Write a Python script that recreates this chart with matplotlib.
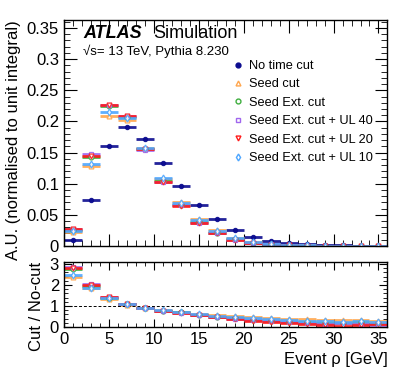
import matplotlib
matplotlib.use("Agg")
import matplotlib.pyplot as plt
from matplotlib.lines import Line2D
from matplotlib.ticker import MultipleLocator
import numpy as np

plt.rcParams['font.family'] = ['Liberation Sans', 'DejaVu Sans']

#%% Data

bin_centers = np.arange(1, 36, 2)
bin_half = 1.0

no_cut = [0.0096, 0.074, 0.160, 0.1915, 0.171, 0.1337, 0.0963, 0.0663, 0.043,
          0.026, 0.015, 0.0086, 0.0048, 0.0027, 0.0015, 0.0008, 0.0005, 0.0003]
seed_cut = [0.023, 0.128, 0.209, 0.202, 0.157, 0.108, 0.070, 0.043, 0.0257,
            0.0134, 0.0065, 0.0035, 0.0018, 0.0010, 0.0006, 0.0004, 0.0002, 0.0001]
seed_ext = [0.026, 0.143, 0.224, 0.207, 0.155, 0.104, 0.066, 0.038, 0.021,
            0.0105, 0.0055, 0.0028, 0.0012, 0.0006, 0.0003, 0.0002, 0.0001, 0.0001]
ul40 = [0.027, 0.147, 0.226, 0.208, 0.154, 0.103, 0.065, 0.037, 0.020,
        0.0098, 0.0048, 0.0025, 0.0010, 0.0005, 0.0002, 0.0001, 0.0001, 0.0]
ul20 = [0.027, 0.145, 0.227, 0.209, 0.155, 0.1027, 0.064, 0.037, 0.0203,
        0.0096, 0.0045, 0.0022, 0.0008, 0.0004, 0.0001, 0.0001, 0.0, 0.0]
ul10 = [0.024, 0.131, 0.2156, 0.206, 0.157, 0.1086, 0.069, 0.041, 0.0236,
        0.012, 0.006, 0.003, 0.0015, 0.0008, 0.0004, 0.0002, 0.0001, 0.0]

# ratios to "No time cut"
seed_cut_r = [2.40, 1.85, 1.33, 1.06, 0.92, 0.80, 0.72, 0.63, 0.55,
              0.50, 0.45, 0.42, 0.38, 0.36, 0.33, 0.32, 0.33, 0.30]
seed_ext_r = [2.75, 1.95, 1.40, 1.09, 0.91, 0.78, 0.69, 0.58, 0.49,
              0.41, 0.35, 0.30, 0.25, 0.22, 0.19, 0.20, 0.22, 0.15]
ul40_r = [2.86, 2.05, 1.42, 1.10, 0.91, 0.77, 0.68, 0.57, 0.47,
          0.39, 0.33, 0.28, 0.22, 0.20, 0.15, 0.18, 0.15, 0.10]
ul20_r = [2.79, 2.00, 1.42, 1.10, 0.91, 0.77, 0.67, 0.56, 0.45,
          0.36, 0.29, 0.23, 0.17, 0.14, 0.09, 0.05, 0.08, 0.12]
ul10_r = [2.46, 1.87, 1.36, 1.08, 0.92, 0.80, 0.71, 0.61, 0.52,
          0.46, 0.41, 0.37, 0.33, 0.30, 0.26, 0.25, 0.27, 0.22]

labels = ["No time cut", "Seed cut", "Seed Ext. cut",
          "Seed Ext. cut + UL 40", "Seed Ext. cut + UL 20", "Seed Ext. cut + UL 10"]
colors = ["#0b0b8f", "#ffa64d", "#3fae3f", "#a066ee", "#ff1a1a", "#4da6ff"]
markers = ["o", "^", "o", "s", "v", "d"]

#%% Figure

fig = plt.figure(figsize=(4.07, 3.91), dpi=100)
ax = fig.add_axes([0.157, 0.371, 0.795, 0.578])
axr = fig.add_axes([0.157, 0.164, 0.795, 0.166])

series = [no_cut, seed_cut, seed_ext, ul40, ul20, ul10]
ratios = [None, seed_cut_r, seed_ext_r, ul40_r, ul20_r, ul10_r]

for i, (vals, col, mk) in enumerate(zip(series, colors, markers)):
    filled = i == 0
    ax.errorbar(bin_centers, vals, xerr=bin_half, fmt=mk, color=col,
                ms=3 if filled else 3.5, mfc=col if filled else 'white',
                mec=col, mew=0.9, elinewidth=2.0, capsize=0, alpha=0.9)
    if ratios[i] is not None:
        axr.errorbar(bin_centers, ratios[i], xerr=bin_half, fmt=mk, color=col,
                     ms=3.5, mfc='white', mec=col, mew=0.9,
                     elinewidth=2.0, capsize=0, alpha=0.9)

axr.axhline(1.0, color='black', linestyle=(0, (3, 2)), lw=0.7)

for a in (ax, axr):
    a.set_xlim(0, 36)
    a.xaxis.set_major_locator(MultipleLocator(5))
    a.xaxis.set_minor_locator(MultipleLocator(1))
    a.tick_params(which='both', direction='in', top=True, right=True, labelsize=12)
    for s in a.spines.values():
        s.set_linewidth(1.0)

ax.set_ylim(0, 0.363)
ax.yaxis.set_major_locator(MultipleLocator(0.05))
ax.yaxis.set_minor_locator(MultipleLocator(0.01))
ax.tick_params(which='major', length=9)
ax.tick_params(which='minor', length=4.5)
ax.tick_params(axis='x', labelbottom=False)
ax.set_yticks(np.arange(0, 0.36, 0.05))
ax.set_yticklabels(["0", "0.05", "0.1", "0.15", "0.2", "0.25", "0.3", "0.35"])
ax.set_ylabel("A.U. (normalised to unit integral)", fontsize=12, loc='top')

axr.set_ylim(0, 3.1)
axr.yaxis.set_major_locator(MultipleLocator(1))
axr.yaxis.set_minor_locator(MultipleLocator(0.2))
axr.tick_params(which='major', length=6)
axr.tick_params(which='minor', length=3)
axr.set_ylabel("Cut / No-cut", fontsize=12, loc='top')
axr.set_xlabel("Event ρ [GeV]", fontsize=12, loc='right')

# ATLAS label
ax.text(0.06, 0.94, "ATLAS", transform=ax.transAxes, fontsize=13,
        fontweight='bold', fontstyle='italic', va='center')
ax.text(0.275, 0.94, "Simulation", transform=ax.transAxes, fontsize=13, va='center')
ax.text(0.06, 0.86, "√s= 13 TeV, Pythia 8.230", transform=ax.transAxes,
        fontsize=9.5, va='center')

# Legend
handles = []
for lab, col, mk in zip(labels, colors, markers):
    filled = mk == "o" and col == colors[0]
    handles.append(Line2D([0], [0], marker=mk, linestyle='none', color=col,
                          mfc=col if filled else 'white', mec=col, ms=3.5, label=lab))
ax.legend(handles=handles, loc='upper left', bbox_to_anchor=(0.5, 0.845),
          frameon=False, fontsize=9.2, handletextpad=0.2, labelspacing=0.5,
          handlelength=1.2, borderaxespad=0)

fig.savefig("out.png", dpi=100)
